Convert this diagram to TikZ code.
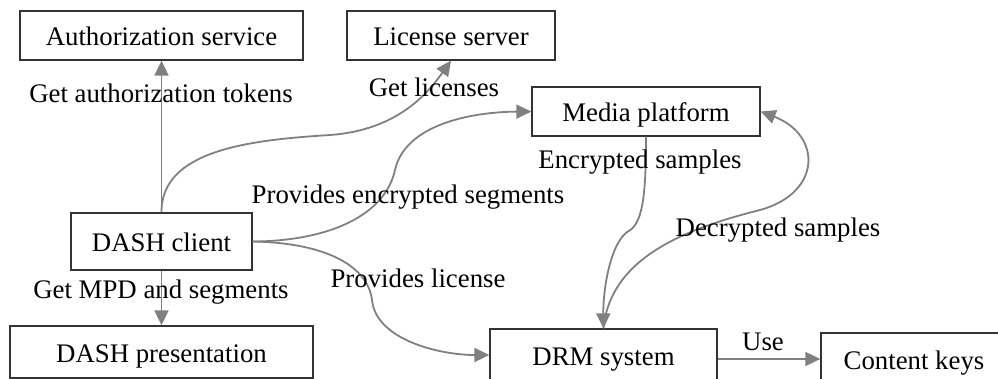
\documentclass[tikz,border=0pt]{standalone}
\usepackage{fontspec}
\setmainfont{Liberation Serif}
\usetikzlibrary{arrows.meta}
\begin{document}
\begin{tikzpicture}[x=1pt,y=-1pt,
  box/.style={draw=black!80, line width=1.3pt, inner sep=0pt, anchor=center,
    text height=20pt, text depth=0pt,
    font=\fontsize{26.8}{30}\selectfont},
  lab/.style={inner sep=0pt, anchor=center, font=\fontsize{26.8}{30}\selectfont},
  conn/.style={line width=1.8pt,
    -{Triangle[length=15pt,width=14pt]}, color=black!50}]
\useasboundingbox (0,0) rectangle (998,378);
\node[box, minimum width=283pt, minimum height=49pt] (auth) at (161.5,35.5) {Authorization service};
\node[box, minimum width=208pt, minimum height=49pt] (lic) at (451,35.5) {License server};
\node[box, minimum width=228pt, minimum height=49pt] (media) at (646,111.5) {Media platform};
\node[box, minimum width=181pt, minimum height=57pt] (client) at (161.5,241.5) {DASH client};
\node[box, minimum width=303pt, minimum height=52pt] (pres) at (161.5,352) {DASH presentation};
\node[box, minimum width=227pt, minimum height=52pt] (drm) at (603.5,355) {DRM system};
\node[box, minimum width=186pt, minimum height=52pt] (keys) at (914,359) {Content keys};

\draw[conn] (client.north) -- (auth.south);
\draw[conn] (client.north) .. controls (161,150) and (250,140) .. (330,135)
  .. controls (400,130) and (430,90) .. (lic.south);
\draw[conn] (client.east) .. controls (330,241) and (385,215) .. (395,170)
  .. controls (405,125) and (470,112) .. (media.west);
\draw[conn] (client.east) .. controls (330,243) and (368,268) .. (372,300)
  .. controls (376,340) and (440,355) .. (drm.west);
\draw[conn] (client.south) -- (pres.north);
\draw[conn] (media.south) .. controls (646,200) and (642,225) .. (627,232)
  .. controls (610,245) and (603,290) .. (drm.north);
\draw[conn] (drm.north) .. controls (610,260) and (680,230) .. (760,210)
  .. controls (822,193) and (822,135) .. (media.east);
\draw[conn] (drm.east |- keys.west) -- (keys.west);

\node[lab] (l1) at (161,93) {Get authorization tokens};
\node[lab] (l2) at (434,87) {Get licenses};
\node[lab] (l3) at (408,197) {Provides encrypted segments};
\node[lab] (l4) at (418,278) {Provides license};
\node[lab] (l5) at (161,292) {Get MPD and segments};
\node[lab] (l6) at (640,162) {Encrypted samples};
\node[lab] (l7) at (778,230) {Decrypted samples};
\node[lab] (l8) at (763,342) {Use};
\end{tikzpicture}
\end{document}
